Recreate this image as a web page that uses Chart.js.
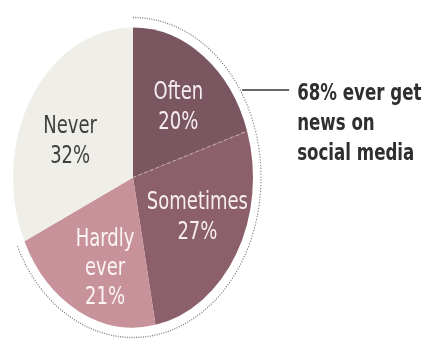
<!DOCTYPE html>
<html>
<head>
<meta charset="utf-8">
<script src="https://cdn.jsdelivr.net/npm/chart.js@4.4.1/dist/chart.umd.min.js"></script>
<style>
  html, body { margin: 0; padding: 0; background: #ffffff; overflow: hidden; }
</style>
</head>
<body>
<canvas id="pie" width="425" height="341"></canvas>
<script>
// Data
const categories = ['Often', 'Sometimes', 'Hardly ever', 'Never'];
const shares = [20, 27, 21, 32];
const labelLines = [['Often', '20%'], ['Sometimes', '27%'], ['Hardly', 'ever', '21%'], ['Never', '32%']];
const sliceColors = ['#7a5660', '#8c606a', '#c8929b', '#efeee8'];
const labelColors = ['#f6eef0', '#f6eef0', '#fbf5f6', '#3f3f3f'];
const bracketText = ['68% ever get', 'news on', 'social media'];
const bracketCount = 3; // Often + Sometimes + Hardly ever

// label placement inside each slice: share of radius, turn off the mid angle (deg)
const labelRadius = [0.60, 0.60, 0.65, 0.575];
const labelTurn = [3, -4, -6, -8];

const FONT = '"Liberation Sans Narrow", "DejaVu Sans Condensed", sans-serif';
const STRETCH_Y = 1.25; // the original pie is drawn as a tall ellipse

// squash everything vertically into an ellipse
const stretch = {
    id: 'stretch',
    beforeDraw(chart) {
        chart.ctx.save();
        chart.ctx.scale(1, STRETCH_Y);
    },
    afterDraw(chart) {
        chart.ctx.restore();
    }
};

const overlay = {
    id: 'overlay',
    afterDatasetsDraw(chart) {
        const ctx = chart.ctx;
        const arcs = chart.getDatasetMeta(0).data;
        const cx = arcs[0].x, cy = arcs[0].y, r = arcs[0].outerRadius;

        ctx.save();

        // dashed divider between Often and Sometimes
        const a1 = arcs[0].endAngle;
        ctx.strokeStyle = 'rgba(230,200,210,0.55)';
        ctx.lineWidth = 1;
        ctx.setLineDash([3, 3]);
        ctx.beginPath();
        ctx.moveTo(cx, cy);
        ctx.lineTo(cx + Math.cos(a1) * r, cy + Math.sin(a1) * r);
        ctx.stroke();

        // dotted bracket around the "ever" slices
        const rb = r + 8;
        const start = arcs[0].startAngle;
        const end = arcs[bracketCount - 1].endAngle;
        ctx.strokeStyle = '#808080';
        ctx.lineWidth = 1.1;
        ctx.setLineDash([1, 1.3]);
        ctx.beginPath();
        ctx.arc(cx, cy, rb, start, end);
        ctx.stroke();
        ctx.setLineDash([]);

        // leader line + text
        const ly = cy - 70;
        const lx = cx + Math.sqrt(rb * rb - 70 * 70) + 2;
        ctx.strokeStyle = '#333333';
        ctx.lineWidth = 1.3;
        ctx.beginPath();
        ctx.moveTo(lx, ly);
        ctx.lineTo(lx + 47, ly);
        ctx.stroke();

        ctx.fillStyle = '#2f2f2f';
        ctx.font = 'bold 18.5px ' + FONT;
        ctx.textAlign = 'left';
        ctx.textBaseline = 'middle';
        bracketText.forEach((t, i) => ctx.fillText(t, lx + 55, ly + 3.5 + i * 24));

        // slice labels
        ctx.font = '20px ' + FONT;
        ctx.textAlign = 'center';
        arcs.forEach((arc, i) => {
            const mid = (arc.startAngle + arc.endAngle) / 2 + labelTurn[i] * Math.PI / 180;
            const d = r * labelRadius[i];
            const x = cx + Math.cos(mid) * d;
            const y = cy + Math.sin(mid) * d;
            const lines = labelLines[i];
            const step = lines.length > 2 ? 23.5 : 24;
            ctx.fillStyle = labelColors[i];
            lines.forEach((t, j) => {
                ctx.fillText(t, x, y + (j - (lines.length - 1) / 2) * step);
            });
        });

        ctx.restore();
    }
};

new Chart(document.getElementById('pie'), {
    type: 'pie',
    data: {
        labels: categories,
        datasets: [{
            data: shares,
            backgroundColor: sliceColors,
            borderWidth: 0,
            hoverOffset: 0
        }]
    },
    options: {
        responsive: false,
        animation: false,
        layout: { padding: { left: 13, top: 22, right: 172, bottom: 79 } },
        plugins: {
            legend: { display: false },
            tooltip: { enabled: false }
        }
    },
    plugins: [stretch, overlay]
});
</script>
</body>
</html>
